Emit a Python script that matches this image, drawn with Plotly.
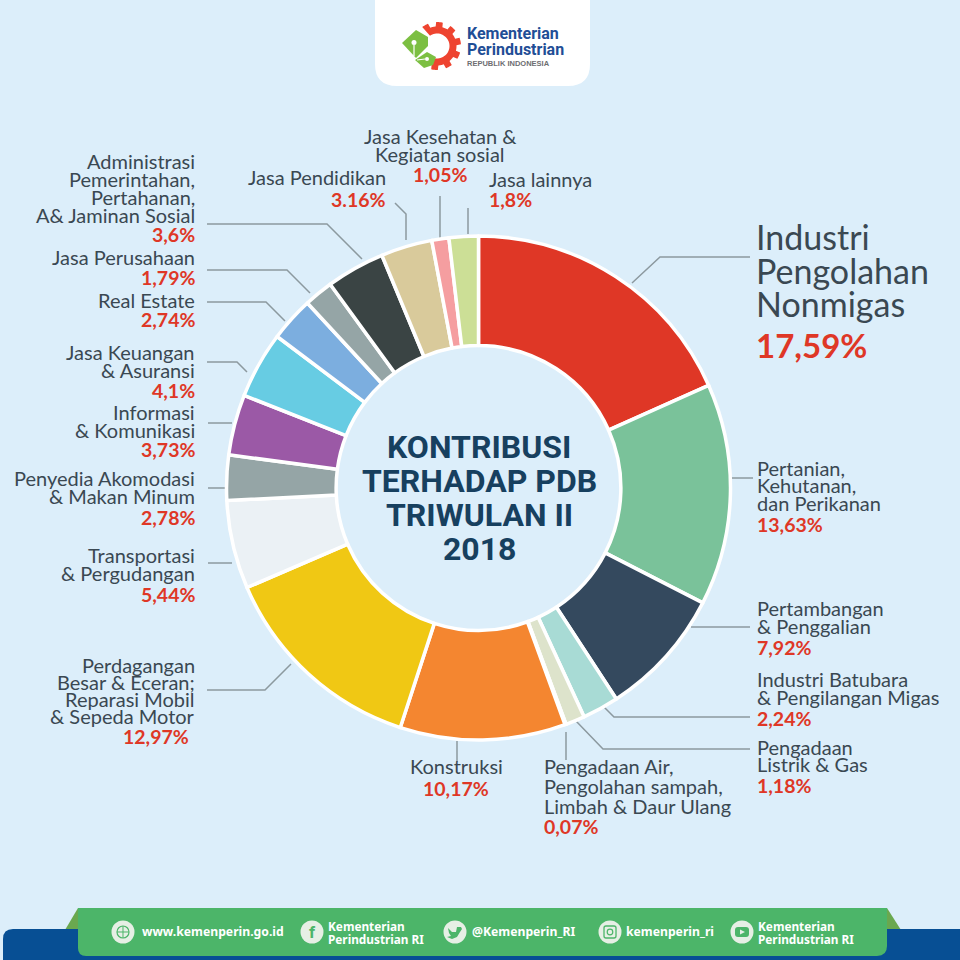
import math
import plotly.graph_objects as go

# ---- data ----
categories = ["Industri Pengolahan Nonmigas", "Pertanian, Kehutanan, dan Perikanan", "Pertambangan & Penggalian",
              "Industri Batubara & Pengilangan Migas", "Pengadaan Listrik & Gas", "Pengadaan Air, Pengolahan sampah, Limbah & Daur Ulang",
              "Konstruksi", "Perdagangan Besar & Eceran; Reparasi Mobil & Sepeda Motor", "Transportasi & Pergudangan",
              "Penyedia Akomodasi & Makan Minum", "Informasi & Komunikasi", "Jasa Keuangan & Asuransi", "Real Estate",
              "Jasa Perusahaan", "Administrasi Pemerintahan, Pertahanan, A& Jaminan Sosial", "Jasa Pendidikan",
              "Jasa Kesehatan & Kegiatan sosial", "Jasa lainnya"]
values = [17.59, 13.63, 7.92, 2.24, 1.18, 0.07, 10.17, 12.97, 5.44, 2.78, 3.73, 4.1, 2.74, 1.79, 3.6, 3.16, 1.05, 1.8]
colors = ["#DF3726", "#7AC29A", "#34495E", "#A8DBD5", "#DDE3CB", "#FFFFFF", "#F48630", "#F0C814", "#EBF1F5",
          "#95A5A6", "#9B59A6", "#67CCE3", "#7CAEDF", "#95A5A6", "#3A4444", "#D9CA9B", "#F59EA0", "#CCDF96"]

# (anchor, x, y, text, kind)
label_lines = [
    ("right", 197, 161, "Administrasi", "n"), ("right", 197, 179, "Pemerintahan,", "n"), ("right", 197, 197, "Pertahanan,", "n"),
    ("right", 197, 215, "A& Jaminan Sosial", "n"), ("right", 197, 235, "3,6%", "p"),
    ("right", 197, 257, "Jasa Perusahaan", "n"), ("right", 197, 277, "1,79%", "p"),
    ("right", 197, 300, "Real Estate", "n"), ("right", 197, 320, "2,74%", "p"),
    ("right", 197, 352, "Jasa Keuangan", "n"), ("right", 197, 370, "& Asuransi", "n"), ("right", 197, 390, "4,1%", "p"),
    ("right", 197, 412, "Informasi", "n"), ("right", 197, 430, "& Komunikasi", "n"), ("right", 197, 449, "3,73%", "p"),
    ("right", 197, 478, "Penyedia Akomodasi", "n"), ("right", 197, 496, "& Makan Minum", "n"), ("right", 197, 517, "2,78%", "p"),
    ("right", 197, 555, "Transportasi", "n"), ("right", 197, 573, "& Pergudangan", "n"), ("right", 197, 594, "5,44%", "p"),
    ("right", 197, 665, "Perdagangan", "n"), ("right", 197, 682, "Besar & Eceran;", "n"), ("right", 197, 699, "Reparasi Mobil", "n"),
    ("right", 197, 716, "& Sepeda Motor", "n"), ("right", 191, 736, "12,97%", "p"),
    ("right", 388, 177, "Jasa Pendidikan", "n"), ("right", 388, 199, "3.16%", "p"),
    ("center", 440, 136, "Jasa Kesehatan &", "n"), ("center", 440, 154, "Kegiatan sosial", "n"), ("center", 440, 175, "1,05%", "p"),
    ("left", 487, 179, "Jasa lainnya", "n"), ("left", 487, 199, "1,8%", "p"),
    ("left", 755, 468, "Pertanian,", "n"), ("left", 755, 485, "Kehutanan,", "n"), ("left", 755, 503, "dan Perikanan", "n"), ("left", 755, 524, "13,63%", "p"),
    ("left", 755, 608, "Pertambangan", "n"), ("left", 755, 626, "& Penggalian", "n"), ("left", 755, 647, "7,92%", "p"),
    ("left", 755, 679, "Industri Batubara", "n"), ("left", 755, 697, "& Pengilangan Migas", "n"), ("left", 755, 718, "2,24%", "p"),
    ("left", 755, 747, "Pengadaan", "n"), ("left", 755, 764, "Listrik & Gas", "n"), ("left", 755, 785, "1,18%", "p"),
    ("center", 456, 766, "Konstruksi", "n"), ("center", 456, 788, "10,17%", "p"),
    ("left", 542, 766, "Pengadaan Air,", "n"), ("left", 542, 786, "Pengolahan sampah,", "n"), ("left", 542, 806, "Limbah & Daur Ulang", "n"), ("left", 542, 826, "0,07%", "p"),
    ("left", 754, 237, "Industri", "N"), ("left", 754, 270, "Pengolahan", "N"), ("left", 754, 303, "Nonmigas", "N"), ("left", 754, 345, "17,59%", "P"),
]
title_lines = [("KONTRIBUSI", 447), ("TERHADAP PDB", 481), ("TRIWULAN II", 515), ("2018", 549)]
leaders = [
    [(632, 283), (660, 257), (750, 257)], [(730, 478), (753, 478)], [(691, 627), (750, 627)],
    [(604, 707), (614, 717), (750, 717)], [(576, 721), (603, 749), (750, 749)], [(566, 732), (566, 760)],
    [(457, 741), (457, 762)], [(207, 690), (265, 690), (291, 664)], [(208, 563), (232, 563)], [(208, 488), (226, 488)],
    [(208, 423), (232, 423)], [(207, 362), (237, 362), (247, 372)], [(207, 302), (266, 302), (285, 321)],
    [(207, 270), (287, 270), (310, 293)], [(207, 224), (327, 224), (362, 259)], [(395, 203), (406, 214), (406, 240)],
    [(440, 196), (440, 238)], [(468, 208), (468, 234)],
]
footer_single = [(140, "www.kemenperin.go.id"), (470, "@Kemenperin_RI"), (624, "kemenperin_ri")]
footer_double = [(326, "Kementerian", "Perindustrian RI"), (756, "Kementerian", "Perindustrian RI")]
footer_icon_x = [123, 312, 455, 610, 742]

BG = "#DCEEFA"; TXT = "#3A4852"; RED = "#DF3726"; NAVY = "#17405F"; LINE = "#8C999F"; GREEN = "#4CB569"; ICON = "#E6EFE5"
FONT = "Lato"; HEAVY = "Roboto"
px = lambda x: x / 960
py = lambda y: 1 - y / 960

CX, CY, R = 478.5, 488, 252
fig = go.Figure(go.Pie(
    labels=categories, values=values, sort=False, direction="clockwise", rotation=0, hole=0.565,
    marker=dict(colors=colors, line=dict(color="white", width=3.5)), textinfo="none", hoverinfo="label+value",
    showlegend=False, domain=dict(x=[px(CX - R), px(CX + R)], y=[py(CY + R), py(CY - R)]),
))

shapes, ann = [], []
def path(d, fill, line=None, w=0):
    shapes.append(dict(type="path", xref="paper", yref="paper", path=d, fillcolor=fill,
                       line=dict(color=line or fill, width=w), layer="below"))
def P(x, y):
    return f"{px(x):.5f},{py(y):.5f}"
def poly(pts, fill):
    path("M" + " L".join(P(*p) for p in pts) + " Z", fill)
def stroke(pts, color, w):
    shapes.append(dict(type="path", xref="paper", yref="paper", path="M" + " L".join(P(*p) for p in pts),
                       line=dict(color=color, width=w), layer="below"))
def circ(x, y, r, fill, line=None, w=0):
    shapes.append(dict(type="circle", xref="paper", yref="paper", x0=px(x - r), x1=px(x + r), y0=py(y + r), y1=py(y - r),
                       fillcolor=fill, line=dict(color=line or fill, width=w), layer="below"))
def rrect(x0, y0, x1, y1, tl, tr, br, bl):
    return (f"M{P(x0+tl,y0)} L{P(x1-tr,y0)} Q{P(x1,y0)} {P(x1,y0+tr)} L{P(x1,y1-br)} Q{P(x1,y1)} {P(x1-br,y1)} "
            f"L{P(x0+bl,y1)} Q{P(x0,y1)} {P(x0,y1-bl)} L{P(x0,y0+tl)} Q{P(x0,y0)} {P(x0+tl,y0)} Z")
def text(x, y, t, size, color, anchor="center", family=FONT, bold=False):
    ann.append(dict(xref="paper", yref="paper", x=px(x), y=py(y), xanchor=anchor, yanchor="middle", showarrow=False,
                    text=f"<b>{t}</b>" if bold else t, font=dict(family=family, size=size, color=color), align=anchor))

# header tab
path(rrect(375, -12, 590, 86, 0, 0, 22, 22), "#FFFFFF")
# gear emblem
gx, gy = 437, 46
gear = []
for deg in range(-128, 122, 2):
    tooth = ((deg + 128) % 36) < 17
    r = 24 if tooth else 19.5
    a = math.radians(deg)
    gear.append((gx + r * math.cos(a), gy + r * math.sin(a)))
for deg in range(122, -130, -6):
    a = math.radians(deg)
    gear.append((gx + 12.5 * math.cos(a), gy + 12.5 * math.sin(a)))
poly(gear, "#EE4430")
# leaves
poly([(402, 43), (416, 30), (428, 37), (428, 46), (416, 58)], "#7CBF42")
poly([(415, 60), (427, 52), (436, 57), (433, 65), (424, 68)], "#7CBF42")
circ(414, 42.5, 2.5, "white")
stroke([(414, 45), (414, 56)], "white", 1.2)
circ(427, 59, 2, "white")
stroke([(417, 60), (425, 59)], "white", 1.2)
text(465, 33, "Kementerian", 16, "#1F4E96", "left", HEAVY, True)
text(465, 49.5, "Perindustrian", 16, "#1F4E96", "left", HEAVY, True)
text(465, 63.5, "REPUBLIK INDONESIA", 7.5, "#6D6E71", "left", "Liberation Sans", True)

# footer
poly([(65, 930), (78, 908), (80, 930)], "#6AA84F")
poly([(887, 908), (901, 930), (885, 930)], "#6AA84F")
path(rrect(3, 929, 975, 975, 10, 10, 0, 0), "#074F94")
path(rrect(78, 908, 887, 956, 0, 0, 10, 8), GREEN)
for ix in footer_icon_x:
    circ(ix, 932, 11.5, ICON)
ix = footer_icon_x[0]   # globe
circ(ix, 932, 6, ICON, GREEN, 1.2)
stroke([(ix - 6, 932), (ix + 6, 932)], GREEN, 1)
stroke([(ix, 926), (ix, 938)], GREEN, 1)
text(footer_icon_x[1], 932, "f", 17, GREEN, "center", "Roboto", True)
ix = footer_icon_x[2]   # bird
poly([(ix - 7, 928), (ix - 3, 932), (ix + 1, 932), (ix + 2, 927), (ix + 6, 927), (ix + 7, 929), (ix + 5, 932),
      (ix + 2, 937), (ix - 3, 939), (ix - 8, 937), (ix - 4, 936), (ix - 6, 933)], GREEN)
ix = footer_icon_x[3]   # camera
path(rrect(ix - 6, 926, ix + 6, 938, 2, 2, 2, 2), ICON, GREEN, 1.3)
circ(ix, 932, 2.8, ICON, GREEN, 1.2)
ix = footer_icon_x[4]   # video
path(rrect(ix - 7, 927, ix + 7, 937, 3, 3, 3, 3), GREEN)
poly([(ix - 2, 929.5), (ix + 3, 932), (ix - 2, 934.5)], ICON)
for fx, t in footer_single:
    text(fx, 931.5, t, 12.2, "white", "left", "Noto Sans", True)
for fx, a, b in footer_double:
    text(fx, 926, a, 11.8, "white", "left", "Noto Sans", True)
    text(fx, 938.5, b, 11.8, "white", "left", "Noto Sans", True)

# leader lines
for pts in leaders:
    stroke(pts, LINE, 1.5)

# labels
for anchor, x, y, t, kind in label_lines:
    if kind == "n":
        text(x, y, t, 20, TXT, anchor)
    elif kind == "p":
        text(x, y, t, 19.5, RED, anchor, FONT, True)
    elif kind == "N":
        text(x, y, t, 34, TXT, anchor)
    else:
        text(x, y, t, 33, RED, anchor, FONT, True)
for t, y in title_lines:
    text(479, y, t, 32, NAVY, "center", HEAVY, True)

fig.update_layout(width=960, height=960, margin=dict(l=0, r=0, t=0, b=0), paper_bgcolor=BG, plot_bgcolor=BG,
                  shapes=shapes, annotations=ann, autosize=False)
fig.write_html("out.html", config=dict(displayModeBar=False), post_script="document.body.style.margin='0';")
